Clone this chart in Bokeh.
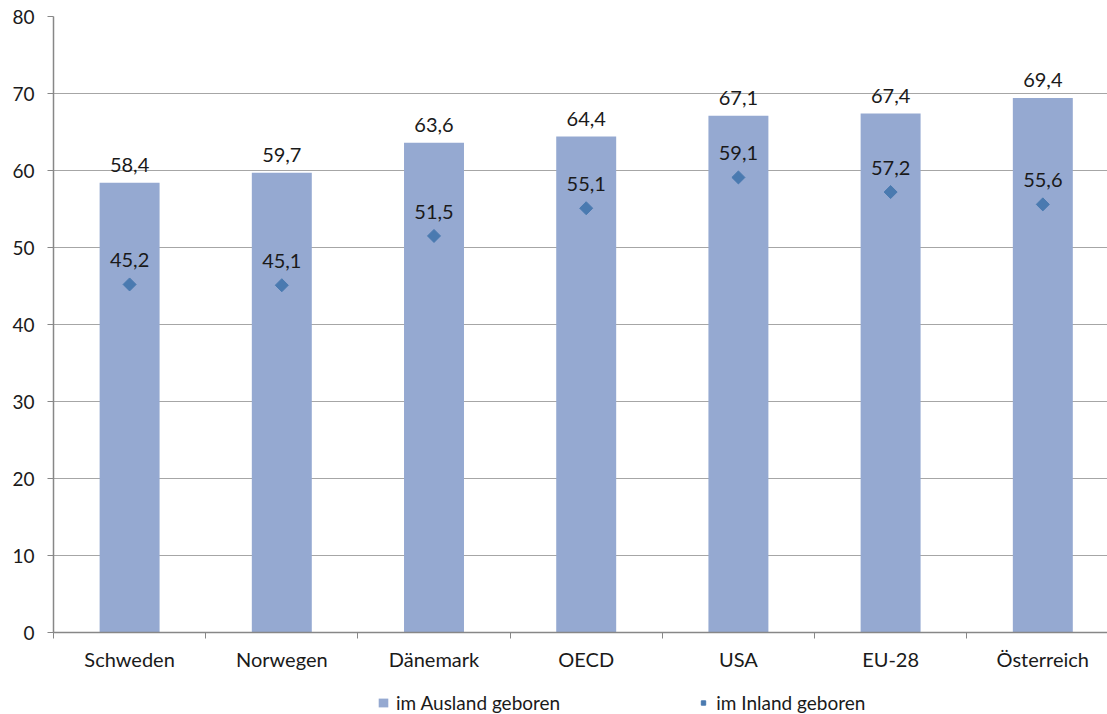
import math
from bokeh.plotting import figure
from bokeh.layouts import column
from bokeh.models import (ColumnDataSource, Range1d, FixedTicker, Legend, LegendItem,
                          LabelSet)
from bokeh.core.properties import value
from bokeh.embed import file_html
from bokeh.resources import INLINE

categories = ["Schweden", "Norwegen", "Dänemark", "OECD", "USA", "EU-28", "Österreich"]
ausland = [58.4, 59.7, 63.6, 64.4, 67.1, 67.4, 69.4]
inland = [45.2, 45.1, 51.5, 55.1, 59.1, 57.2, 55.6]
y_ticks = [0, 10, 20, 30, 40, 50, 60, 70, 80]
series_names = ["im Ausland geboren", "im Inland geboren"]

FONT = "Lato"
TEXT_COLOR = "#1a1a1a"
BAR_COLOR = "#95A9D1"
DIAMOND_COLOR = "#4A7AB0"
AXIS_COLOR = "#878787"

def fmt(v):
    return f"{v:.1f}".replace(".", ",")

x = [i + 0.5 for i in range(len(categories))]
src = ColumnDataSource(dict(
    x=x,
    ausland=ausland,
    inland=inland,
    aus_lbl=[fmt(v) for v in ausland],
    inl_lbl=[fmt(v) for v in inland],
))

p = figure(width=1107, height=686, output_backend="svg", toolbar_location=None,
           x_range=Range1d(0, 6.925), y_range=Range1d(0, 80),
           min_border_left=53, min_border_right=0, min_border_top=16,
           min_border_bottom=54)
p.outline_line_color = None
p.background_fill_color = "white"
p.border_fill_color = "white"

bar_style = dict(width=0.394, fill_color=BAR_COLOR, line_color=None)
dot_style = dict(marker="square", size=9.2, angle=math.pi / 4,
                 fill_color=DIAMOND_COLOR, line_color=DIAMOND_COLOR)

p.vbar(x="x", top="ausland", bottom=0, source=src, **bar_style)
# rotated square = symmetric diamond
p.scatter(x="x", y="inland", source=src, **dot_style)

lab_style = dict(text_font=value(FONT), text_font_size="20px", text_color=TEXT_COLOR,
                 text_align="center", text_baseline="alphabetic")
p.add_layout(LabelSet(x="x", y="ausland", text="aus_lbl", source=src, y_offset=11,
                      **lab_style))
p.add_layout(LabelSet(x="x", y="inland", text="inl_lbl", source=src, y_offset=17,
                      **lab_style))

# x axis: labels at category centres, small ticks at category boundaries
p.xaxis.ticker = FixedTicker(ticks=x, minor_ticks=list(range(len(categories) + 1)))
p.xaxis.major_label_overrides = {xi: c for xi, c in zip(x, categories)}
p.xaxis.major_tick_out = 0
p.xaxis.major_tick_in = 0
p.xaxis.minor_tick_out = 6
p.xaxis.minor_tick_in = 0
p.xaxis.minor_tick_line_color = AXIS_COLOR
p.xaxis.axis_line_color = AXIS_COLOR
p.xaxis.axis_line_width = 1.5
p.xaxis.major_label_standoff = 8
p.xaxis.major_label_text_font = FONT
p.xaxis.major_label_text_font_size = "20px"
p.xaxis.major_label_text_color = TEXT_COLOR

p.yaxis.ticker = FixedTicker(ticks=y_ticks)
p.yaxis.minor_tick_line_color = None
p.yaxis.major_tick_out = 6
p.yaxis.major_tick_in = 0
p.yaxis.major_tick_line_color = AXIS_COLOR
p.yaxis.axis_line_color = AXIS_COLOR
p.yaxis.axis_line_width = 1.5
p.yaxis.major_label_standoff = 13
p.yaxis.major_label_text_font = FONT
p.yaxis.major_label_text_font_size = "19px"
p.yaxis.major_label_text_color = TEXT_COLOR

p.xgrid.grid_line_color = None
p.ygrid.grid_line_color = "#A6A6A6"
p.ygrid.grid_line_width = 1.2

# legend strip underneath the chart; its key renderers share the data but sit
# outside this strip's visible y range, so only the legend itself shows
lg = figure(width=1107, height=28, output_backend="svg", toolbar_location=None,
            x_range=Range1d(0, 7), y_range=Range1d(1000, 1001),
            x_axis_location=None, y_axis_location=None,
            min_border_left=0, min_border_right=0, min_border_top=0, min_border_bottom=0)
lg.outline_line_color = None
lg.xgrid.grid_line_color = None
lg.ygrid.grid_line_color = None
key_bar = lg.vbar(x="x", top="ausland", bottom=0, source=src, **bar_style)
key_dot = lg.scatter(x="x", y="inland", source=src, **dot_style)

legend = Legend(items=[LegendItem(label=series_names[0], renderers=[key_bar]),
                       LegendItem(label=series_names[1], renderers=[key_dot])],
                orientation="horizontal", location=(324, 0),
                label_text_font=FONT, label_text_font_size="19px",
                label_text_color=TEXT_COLOR, glyph_width=12, glyph_height=11,
                spacing=137, padding=0, margin=0, border_line_color=None,
                background_fill_alpha=0, label_standoff=7)
lg.add_layout(legend, "center")

layout = column(p, lg, spacing=0)
open("out.html", "w").write(file_html(layout, INLINE))
